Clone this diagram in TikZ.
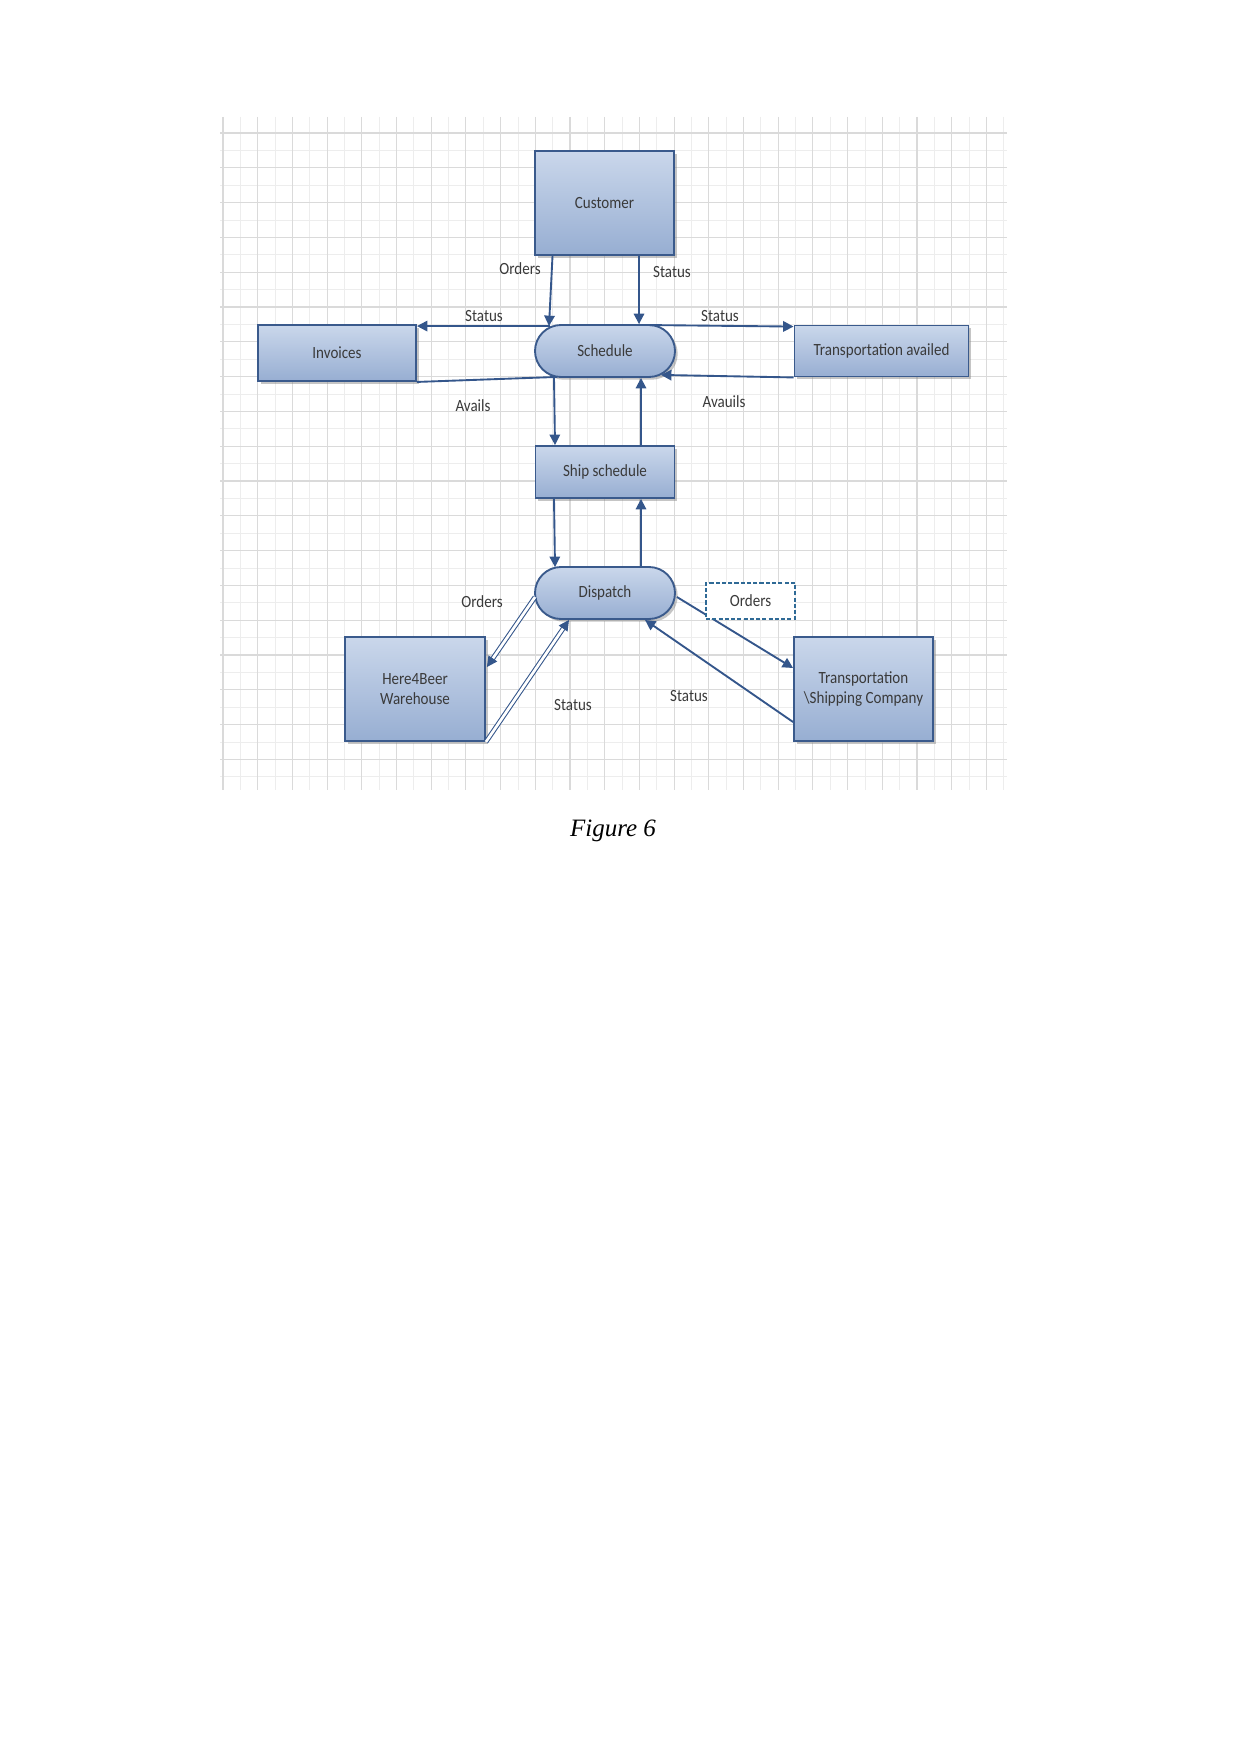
\documentclass[tikz,border=0pt]{standalone}
\usepackage{fontspec}
\setmainfont{Liberation Serif}
\newfontfamily\diag[FakeStretch=0.88]{Carlito}
\usetikzlibrary{arrows.meta,shadows,shapes.misc,calc}
\definecolor{boxline}{HTML}{3A5A8C}
\definecolor{flow}{HTML}{34568B}
\definecolor{filltop}{HTML}{CAD7EB}
\definecolor{fillbot}{HTML}{97AED2}
\definecolor{gridmaj}{HTML}{DADADA}
\definecolor{gridmin}{HTML}{EDEDED}
\definecolor{dashc}{HTML}{2F6A96}
\definecolor{txt}{HTML}{3A3A3A}
\def\pxu{0.4797pt}
\tikzset{
 entity/.style={draw=boxline, line width=0.9pt, top color=filltop, bottom color=fillbot,
   drop shadow={shadow xshift=1.3pt, shadow yshift=-1.3pt, opacity=0.45, fill=black!50},
   font=\diag\fontsize{8.2}{10}\selectfont, text=txt, align=center, inner sep=0pt},
 process/.style={entity, rounded rectangle},
 flowline/.style={draw=flow, line width=0.9pt, -{Triangle[length=5pt,width=5pt]}},
 plainline/.style={draw=flow, line width=0.9pt},
 dblline/.style={draw=flow, line width=0.5pt, double=white, double distance=1.3pt, -{Triangle[length=5pt,width=5pt]}},
 lbl/.style={font=\diag\fontsize{8.2}{10}\selectfont, text=txt, inner sep=0pt},
 gmaj/.style={draw=gridmaj, line width=0.5pt},
 gmin/.style={draw=gridmin, line width=0.4pt}
}
\begin{document}
\begin{tikzpicture}[x=0.4797pt, y=-0.4797pt]
\useasboundingbox (0,0) rectangle (1241,1754);
\fill[white] (0,0) rectangle (1241,1754);
% grid
\begin{scope}
\clip (220,117) rectangle (1007,790);
\foreach \k in {0,...,22} { \draw[gmin] (240.35+\k*34.7,117) -- (240.35+\k*34.7,790); }
\foreach \k in {0,...,19} { \draw[gmin] (220,150.4+\k*34.8) -- (1007,150.4+\k*34.8); }
\foreach \k in {0,...,22} { \draw[gmaj] (223+\k*34.7,117) -- (223+\k*34.7,790); }
\foreach \k in {0,...,19} { \draw[gmaj] (220,133+\k*34.8) -- (1007,133+\k*34.8); }
\end{scope}
% nodes
\node[entity, minimum width=139*\pxu, minimum height=104*\pxu] (cust) at (604.5,203) {Customer};
\node[process, minimum width=140*\pxu, minimum height=52*\pxu] (sched) at (605,351) {Schedule};
\node[entity, minimum width=158*\pxu, minimum height=56*\pxu] (inv) at (337,353) {Invoices};
\node[entity, minimum width=174*\pxu, minimum height=51*\pxu] (tav) at (881.5,351) {Transportation availed};
\node[entity, minimum width=139*\pxu, minimum height=52*\pxu] (ship) at (605,472) {Ship schedule};
\node[process, minimum width=140*\pxu, minimum height=52*\pxu] (disp) at (605,593) {Dispatch};
\node[entity, minimum width=140*\pxu, minimum height=104*\pxu] (wh) at (415,689) {Here4Beer\\Warehouse};
\node[entity, minimum width=139*\pxu, minimum height=104*\pxu] (tsc) at (863.5,689) {Transportation\\\textbackslash Shipping Company};
% connectors
\draw[flowline] ($(cust.south)+(-52,0)$) -- ($(sched.north)+(-56,2)$);
\draw[flowline] ($(cust.south)+(34.5,0)$) -- ($(sched.north)+(34,0)$);
\draw[flowline] ($(sched.north)+(-55,2)$) -- ($(inv.north east)+(0,2)$);
\draw[flowline] ($(sched.north)+(45,1)$) -- ($(tav.north west)+(0,2)$);
\draw[plainline] (inv.south east) -- ($(sched.south)+(-48,-1)$);
\draw[flowline] (tav.south west) -- ($(sched.south)+(56,-3)$);
\draw[flowline] ($(sched.south)+(-51,0)$) -- ($(ship.north)+(-50,0)$);
\draw[flowline] ($(ship.north)+(36,0)$) -- ($(sched.south)+(36,0)$);
\draw[flowline] ($(ship.south)+(-51,0)$) -- ($(disp.north)+(-50,1)$);
\draw[flowline] ($(disp.north)+(36,0)$) -- ($(ship.south)+(36,0)$);
\draw[dblline] ($(disp.west)+(1,4)$) -- ($(wh.east)+(1,-22)$);
\draw[dblline] (wh.south east) -- ($(disp.south)+(-36,0)$);
\draw[flowline] ($(disp.east)+(1,4)$) -- ($(tsc.west)+(0,-21)$);
\draw[flowline] ($(tsc.west)+(0,33)$) -- ($(disp.south)+(40,0)$);
% dashed label box
\node[draw=dashc, dashed, dash pattern=on 2pt off 1pt, line width=0.8pt, fill=white,
  minimum width=89*\pxu, minimum height=36*\pxu, lbl] (ordbox) at (750.5,601) {Orders};
% labels
\node[lbl] (l1) at (520,269) {Orders};
\node[lbl] (l2) at (672,272) {Status};
\node[lbl] (l3) at (484,316) {Status};
\node[lbl] (l4) at (720,316) {Status};
\node[lbl] (l5) at (473,406) {Avails};
\node[lbl] (l6) at (724,402) {Avauils};
\node[lbl] (l7) at (482,602) {Orders};
\node[lbl] (l8) at (573,705) {Status};
\node[lbl] (l9) at (689,696) {Status};
% caption
\node[font=\itshape\fontsize{12}{14}\selectfont] (cap) at (613,831) {Figure 6};
\end{tikzpicture}
\end{document}
